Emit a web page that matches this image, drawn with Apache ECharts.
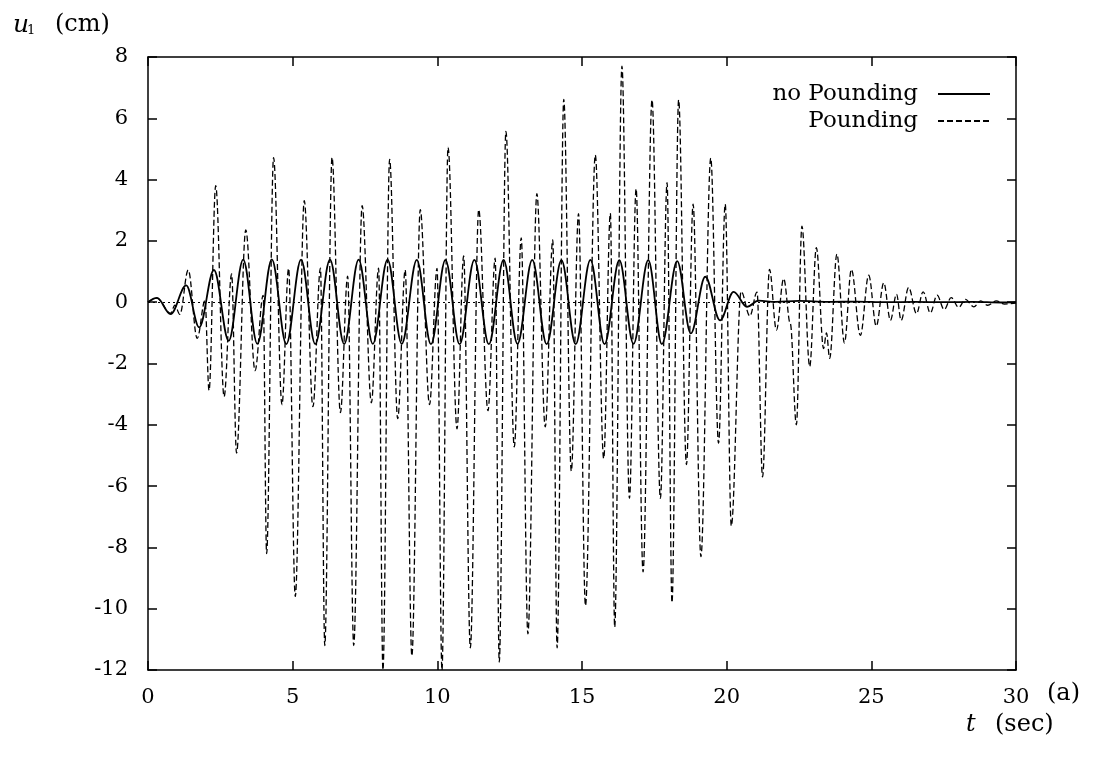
<!DOCTYPE html>
<html>
<head>
<meta charset="utf-8">
<script src="https://cdn.jsdelivr.net/npm/echarts@6/dist/echarts.min.js"></script>
<style>
html,body{margin:0;padding:0;background:#fff;}
#chart{width:1105px;height:760px;}
</style>
</head>
<body>
<div id="chart"></div>
<script>
// ---- data (extrema of each trace) ----
const noPoundingT = [0, 0.31, 0.78, 1.32, 1.77, 2.28, 2.79, 3.29, 3.78, 4.28, 4.78, 5.29, 5.78, 6.29, 6.78, 7.28, 7.77, 8.28, 8.77, 9.29, 9.78, 10.28, 10.77, 11.28, 11.78, 12.29, 12.77, 13.28, 13.78, 14.29, 14.78, 15.29, 15.78, 16.29, 16.78, 17.29, 17.76, 18.29, 18.76, 19.26, 19.77, 20.24, 20.7, 21.1, 21.7, 22.5, 23.5, 24.5, 25.5, 26.5, 27.5, 28.5, 29.5, 30];
const noPoundingU = [0, 0.14, -0.39, 0.55, -0.82, 1.05, -1.26, 1.39, -1.36, 1.40, -1.37, 1.39, -1.37, 1.39, -1.37, 1.39, -1.36, 1.39, -1.36, 1.38, -1.37, 1.38, -1.37, 1.38, -1.37, 1.38, -1.36, 1.38, -1.37, 1.37, -1.37, 1.38, -1.37, 1.37, -1.36, 1.37, -1.37, 1.34, -1.02, 0.83, -0.59, 0.34, -0.15, 0.05, 0.01, 0.04, 0.01, 0.02, 0.0, 0.01, 0.0, 0.01, -0.01, 0.0];

const poundingT = [0, 0.31, 0.78, 0.93, 1.1, 1.39, 1.70, 1.97, 2.11, 2.34,
  2.63, 2.89, 3.06, 3.38, 3.70, 3.98, 4.10, 4.34, 4.63, 4.86,
  5.09, 5.40, 5.70, 5.96, 6.11, 6.36, 6.65, 6.90, 7.11, 7.40,
  7.72, 7.97, 8.12, 8.35, 8.63, 8.89, 9.12, 9.41, 9.73, 9.99,
  10.16, 10.37, 10.68, 10.91, 11.14, 11.43, 11.75, 12.00, 12.14, 12.37,
  12.66, 12.90, 13.13, 13.44, 13.73, 13.99, 14.14, 14.37, 14.63, 14.88,
  15.12, 15.46, 15.75, 15.98, 16.13, 16.38, 16.64, 16.87, 17.11, 17.42,
  17.71, 17.94, 18.11, 18.34, 18.61, 18.84, 19.11, 19.45, 19.72, 19.95,
  20.16, 20.5, 20.8, 21.05, 21.24, 21.48, 21.72, 21.97, 22.2, 22.41,
  22.6, 22.87, 23.1, 23.35, 23.45, 23.56, 23.81, 24.07, 24.31, 24.62,
  24.91, 25.17, 25.43, 25.66, 25.87, 26.03, 26.29, 26.56, 26.79, 27.04,
  27.27, 27.52, 27.76, 28.02, 28.25, 28.54, 28.78, 29.02, 29.32, 29.6,
  30];
const poundingU = [0, 0.13, -0.36, -0.1, -0.4, 1.05, -1.18, 0.05, -2.88, 3.8,
  -3.08, 0.92, -4.92, 2.36, -2.23, 0.22, -8.2, 4.72, -3.34, 1.1,
  -9.6, 3.31, -3.41, 1.11, -11.2, 4.72, -3.6, 0.85, -11.2, 3.15,
  -3.28, 1.11, -12, 4.66, -3.8, 1.05, -11.54, 3.02, -3.34, 1.1,
  -12, 5.05, -4.13, 1.51, -11.28, 3.02, -3.54, 1.44, -11.74, 5.57,
  -4.72, 2.1, -10.82, 3.54, -4.07, 2.03, -11.28, 6.62, -5.51, 2.89,
  -9.9, 4.8, -5.1, 2.9, -10.6, 7.7, -6.4, 3.7, -8.8, 6.6,
  -6.4, 3.9, -9.8, 6.6, -5.3, 3.2, -8.3, 4.7, -4.6, 3.2,
  -7.3, 0.35, -0.45, 0.33, -5.7, 1.07, -0.91, 0.77, -0.7, -4.0,
  2.48, -2.1, 1.78, -1.51, -1.0, -1.83, 1.57, -1.33, 1.07, -1.08,
  0.88, -0.78, 0.63, -0.59, 0.26, -0.59, 0.48, -0.37, 0.34, -0.35,
  0.23, -0.24, 0.15, -0.17, 0.09, -0.15, 0.04, -0.1, 0.04, -0.06,
  -0.03];

const seriesNames = ['no Pounding', 'Pounding'];
const xMin = 0, xMax = 30, xStep = 5;
const yMin = -12, yMax = 8, yStep = 2;

// ---- build ----
function zip(a, b) { const n = Math.min(a.length, b.length); const r = []; for (let i = 0; i < n; i++) r.push([a[i], b[i]]); return r; }

const serif = 'DejaVu Serif';
const black = '#000';
const chart = echarts.init(document.getElementById('chart'), null, {renderer: 'canvas'});

function axis(extra) {
  return Object.assign({
    type: 'value',
    axisLine: {show: true, onZero: false, lineStyle: {color: black, width: 1.5}},
    axisTick: {show: true, inside: true, length: 9, lineStyle: {color: black, width: 1.5}},
    splitLine: {show: false},
    axisLabel: {show: false}
  }, extra);
}
const labelStyle = {show: true, color: black, fontFamily: serif, fontSize: 21};

chart.setOption({
  animation: false,
  backgroundColor: '#fff',
  grid: {left: 148, right: 89, top: 57, bottom: 90, containLabel: false, outerBoundsMode: 'none'},
  xAxis: [
    axis({position: 'bottom', min: xMin, max: xMax, interval: xStep,
      axisLabel: Object.assign({}, labelStyle, {margin: 17})}),
    axis({position: 'top', min: xMin, max: xMax, interval: xStep})
  ],
  yAxis: [
    axis({position: 'left', min: yMin, max: yMax, interval: yStep,
      axisLabel: Object.assign({}, labelStyle, {margin: 20})}),
    axis({position: 'right', min: yMin, max: yMax, interval: yStep})
  ],
  legend: {
    orient: 'vertical',
    right: 109,
    top: 77,
    align: 'right',
    itemWidth: 52,
    itemHeight: 14,
    itemGap: 3,
    itemStyle: {opacity: 0},
    textStyle: {fontFamily: serif, fontSize: 23, color: black, lineHeight: 24, padding: [0, 15, 0, 0]},
    data: seriesNames
  },
  series: [
    {
      name: seriesNames[0],
      type: 'line',
      data: zip(noPoundingT, noPoundingU),
      symbol: 'none',
      smooth: 0.36,
      smoothMonotone: 'x',
      lineStyle: {color: black, width: 1.8, type: 'solid'},
      itemStyle: {color: black},
      markLine: {
        silent: true,
        symbol: 'none',
        label: {show: false},
        lineStyle: {color: black, width: 1.2, type: [2, 3]},
        data: [{yAxis: 0}]
      },
      z: 3
    },
    {
      name: seriesNames[1],
      type: 'line',
      data: zip(poundingT, poundingU),
      symbol: 'none',
      smooth: 0.36,
      smoothMonotone: 'x',
      lineStyle: {color: black, width: 1.3, type: [6, 3]},
      itemStyle: {color: black},
      z: 2
    }
  ],
  graphic: [
    {type: 'text', x: 13, y: 25, style: {text: 'u', fill: black, font: 'italic 25px "DejaVu Serif"', align: 'left', verticalAlign: 'middle'}},
    {type: 'text', x: 27, y: 31, style: {text: '1', fill: black, font: '13px "DejaVu Serif"', align: 'left', verticalAlign: 'middle'}},
    {type: 'text', x: 55, y: 25, style: {text: '(cm)', fill: black, font: '24px "DejaVu Serif"', align: 'left', verticalAlign: 'middle'}},
    {type: 'text', x: 1047, y: 694, style: {text: '(a)', fill: black, font: '24px "DejaVu Serif"', align: 'left', verticalAlign: 'middle'}},
    {type: 'text', x: 966, y: 725, style: {text: 't', fill: black, font: 'italic 24px "DejaVu Serif"', align: 'left', verticalAlign: 'middle'}},
    {type: 'text', x: 995, y: 725, style: {text: '(sec)', fill: black, font: '24px "DejaVu Serif"', align: 'left', verticalAlign: 'middle'}}
  ]
});
</script>
</body>
</html>
